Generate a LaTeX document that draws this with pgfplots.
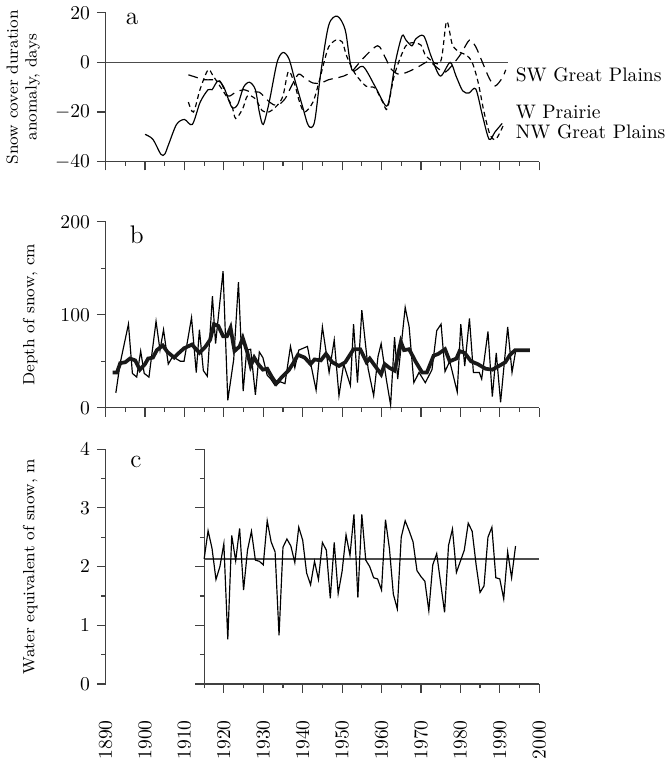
\documentclass[border=0pt]{standalone}
\usepackage{pgfplots}
\pgfplotsset{compat=1.18}
\begin{document}
\begin{tikzpicture}
\tikzset{lbl/.style={font=\fontsize{13}{15}\selectfont}}
\pgfplotsset{
  panel/.style={
    scale only axis, width=221.5pt, xmin=1890, xmax=2000,
    axis x line*=bottom, axis y line*=left,
    axis line style={black!75, line width=0.6pt},
    tick style={black!75, line width=0.6pt},
    tick align=outside, major tick length=4.5pt, minor tick length=2.2pt,
    xtick={1890,1900,...,2000}, minor xtick={1895,1905,...,1995},
    xticklabels={},
    ticklabel style={font=\fontsize{10}{12}\selectfont},
    ylabel style={font=\fontsize{8.3}{9.5}\selectfont, align=center, anchor=center},
    clip=false,
  },
}

% a: snow cover duration anomaly
\begin{axis}[panel, at={(0,266.85pt)}, height=76pt,
  ymin=-40, ymax=20, ytick={-40,-20,0,20},
  ylabel={Snow cover duration\\anomaly, days},
  ylabel style={at={(axis description cs:-0.19,0.5)}}]
\addplot[black!70, line width=0.5pt] coordinates {(1890,0) (1992,0)};
\addplot[black, line width=0.6pt, smooth] coordinates {
(1900,-29) (1902,-31) (1904,-37) (1905,-37) (1906,-33) (1908,-25) (1910,-23)
(1912,-25) (1914,-16) (1916,-11) (1917,-11) (1918.5,-7.5) (1920,-10) (1922,-18)
(1923.5,-17) (1925,-10) (1926.5,-8) (1928,-11) (1929,-20) (1930,-25) (1931.5,-16)
(1933.5,0) (1935,4) (1936.5,1.5) (1938,-7) (1940,-18) (1941.5,-25.6) (1943,-24)
(1944.6,-4) (1946.6,15) (1948.8,18.6) (1950.8,13) (1952.5,-3) (1955.3,-1.6)
(1958.3,-9.5) (1961,-17.4) (1962,-14.7) (1963.5,0) (1965.2,10.7) (1966.2,9)
(1967.7,6.7) (1968.7,9.5) (1970.7,10.7) (1972.6,2.4) (1974.9,-5.5) (1977.4,0)
(1978.9,-5.5) (1980.6,-11.5) (1982.2,-12.3) (1983.9,-10.7) (1985.6,-21.4)
(1987.3,-31) (1988.8,-28) (1990.6,-24.6)};
\addplot[black, line width=0.6pt, smooth, dash pattern=on 2.5pt off 1.8pt] coordinates {
(1911,-16) (1912.3,-20) (1914,-10.7) (1916,-3) (1917.3,-5.5) (1920,-12) (1922,-17.4)
(1923,-22.6) (1924.8,-18.6) (1926,-13.5) (1928,-14.7) (1929.7,-19.4) (1931.4,-20)
(1933.5,-17.4) (1935,-13.5) (1936.4,-3.6) (1938,-9) (1939.2,-16) (1940.5,-20)
(1942.6,-16) (1944.2,-7.5) (1945.4,0) (1946.6,6.3) (1948.4,9) (1950,8.3) (1951.2,2.4)
(1953.2,-4.3) (1956,-9.5) (1958.3,-10.3) (1960.3,-16) (1961.5,-18.6) (1963.3,-4.8)
(1966,6.3) (1968,8) (1970,7) (1971.4,2.4) (1974.9,0) (1976.5,16.5) (1978,7) (1980,4)
(1981.5,3) (1983,0) (1984.5,-8) (1986,-20) (1987.5,-29) (1989,-31) (1991,-25)};
\addplot[black, line width=0.6pt, smooth, dash pattern=on 5pt off 3pt] coordinates {
(1911,-5) (1913,-6) (1915,-7) (1917,-7) (1919,-7.5) (1921,-13.5) (1923,-12) (1925,-11)
(1927,-12) (1929,-12) (1931.6,-16) (1933.5,-17.4) (1935.5,-14.7) (1937,-10)
(1938.9,-4.8) (1940.5,-6.3) (1942.6,-8.3) (1944.6,-8.3) (1946.5,-7) (1948.4,-6.3)
(1950.4,-5.5) (1952.5,-3.6) (1955.3,1.6) (1959,6.7) (1960.8,2.4) (1962.5,-2.8)
(1964.5,-4.8) (1967,-3.6) (1969.5,-1.6) (1972,0.4) (1974,-2) (1976,-4) (1978,-1)
(1980.2,3.6) (1982.3,9) (1983.9,6.3) (1985.6,0) (1987.3,-6.3) (1988.8,-9.5)
(1990.6,-6.3) (1991.5,-3)};
\node[lbl] at (rel axis cs:0.061,0.96) {a};
\node[anchor=west, font=\fontsize{10}{12}\selectfont] at (axis cs:1992.3,-5.1) {SW Great Plains};
\node[anchor=west, font=\fontsize{10}{12}\selectfont] at (axis cs:1992.3,-20.2) {W Prairie};
\node[anchor=west, font=\fontsize{10}{12}\selectfont] at (axis cs:1992.3,-28.1) {NW Great Plains};
\end{axis}

% b: depth of snow
\begin{axis}[panel, at={(0,141.1pt)}, height=95pt,
  ymin=0, ymax=200, ytick={0,100,200}, minor ytick={50,150},
  ylabel={Depth of snow, cm},
  ylabel style={at={(axis description cs:-0.174,0.5)}}]
\addplot[black, line width=0.6pt] coordinates {
(1892.6,16) (1893.7,48) (1895.8,90) (1896.8,37) (1897.9,33) (1898.9,61) (1899.8,37)
(1901,33) (1902.8,93) (1903.8,62) (1904.7,84) (1905.9,47) (1907,55) (1909,50)
(1909.9,50) (1911.8,97) (1913,38) (1913.8,84) (1914.8,40) (1915.8,34) (1917.1,120)
(1917.9,69) (1919.8,147) (1921,8) (1922.5,52) (1923.7,135) (1924.9,18) (1925.8,62)
(1926.8,63) (1928,14) (1929,60) (1929.9,54) (1931,35) (1931.9,31) (1933,24)
(1934.3,28) (1935.5,26) (1936.9,66) (1938,43) (1939,62) (1941.2,66) (1942.2,44)
(1943.4,19) (1945,87) (1946.7,38) (1948,73) (1949.2,13) (1950.4,47) (1952.1,24)
(1952.9,90) (1953.9,27) (1955,105) (1956.6,42) (1958,13) (1959.1,55) (1959.9,69)
(1961.2,31) (1962.3,3) (1963.3,76) (1964.1,31) (1966,108) (1967,87) (1968.2,27)
(1969.5,38) (1971.1,27) (1972.8,41) (1974,83) (1975.1,90) (1976.1,39) (1977.3,50)
(1979.2,17) (1980.1,90) (1981.1,45) (1982.3,96) (1983.3,38) (1984.8,38) (1985.4,31)
(1987,82) (1988.1,12) (1989.1,59) (1990.2,6) (1992,87) (1993.1,38) (1994.1,63)};
\addplot[black!90, line width=1.9pt] coordinates {
(1891.8,38) (1892.9,38) (1893.7,48) (1895,49) (1896.2,53) (1897.5,51) (1898.7,41)
(1900,47) (1900.8,53) (1902,54) (1903,62) (1904.5,67) (1905.7,60) (1907.4,54)
(1908.6,59) (1909.9,64) (1911.9,68) (1913.8,59) (1915.2,65) (1916.5,73) (1917.5,90)
(1918.6,88) (1919.8,77) (1920.8,77) (1921.7,86) (1922.7,61) (1924,66) (1924.8,75)
(1926,59) (1926.8,45) (1927.7,54) (1928.7,47) (1929.9,41) (1931,42) (1932.2,33)
(1933.3,26) (1934.7,33) (1936.4,40) (1937.6,48) (1938.8,57) (1940.5,54) (1942,47)
(1943,52) (1944.6,51) (1945.9,58) (1947.5,49) (1949.2,45) (1950.8,49) (1952.9,63)
(1954.6,63) (1956.2,49) (1957,53) (1958.7,43) (1959.9,36) (1960.8,47) (1962,43)
(1963.3,40) (1964.9,71) (1965.7,62) (1967,63) (1968.6,50) (1970.3,38) (1971.5,38)
(1973.2,56) (1974.4,58) (1976.1,63) (1977.3,50) (1979,53) (1979.8,61) (1981.1,59)
(1982.7,50) (1984.4,47) (1986.4,42) (1988.1,41) (1989.8,45) (1991.4,49) (1992.6,57)
(1993.9,62) (1997.6,62)};
\node[lbl] at (rel axis cs:0.072,0.93) {b};
\end{axis}

% c: water equivalent, left axis and year labels
\begin{axis}[panel, at={(0,0)}, height=120pt,
  ymin=0, ymax=4, ytick={0,1,2,3,4}, minor ytick={0.5,1.5,...,3.5},
  x axis line style={draw=none}, xtick style={draw=none}, minor xtick={},
  xticklabels={1890,1900,1910,1920,1930,1940,1950,1960,1970,1980,1990,2000},
  xticklabel style={rotate=90, anchor=east}, xticklabel shift=10.5pt,
  ylabel={Water equivalent of snow, m},
  ylabel style={at={(axis description cs:-0.174,0.5)}}]
\draw[black!75, line width=0.6pt] (rel axis cs:0,0) -- (rel axis cs:0,1);
\node[lbl] at (rel axis cs:0.07,0.945) {c};
\end{axis}

% c: data axis starting in 1915
\begin{axis}[panel, at={(50.34pt,0)}, width=171.15pt, height=120pt,
  xmin=1915, xmax=2000, xtick={1920,1930,...,2000}, minor xtick={1915,1925,...,1995},
  ymin=0, ymax=4, ytick={0,1,2,3,4}, minor ytick={0.5,1.5,...,3.5}, yticklabels={}]
\addplot[black!70, line width=0.6pt] coordinates {(1915,2.13) (2000,2.13)};
\addplot[black, line width=0.6pt] coordinates {
(1915,2.13) (1916,2.61) (1917,2.31) (1918,1.78) (1919,2.0) (1920,2.39) (1921,0.76)
(1922,2.53) (1923,2.1) (1924,2.65) (1925,1.6) (1926,2.28) (1927,2.6) (1928,2.11)
(1929,2.09) (1930,2.03) (1931,2.78) (1932,2.42) (1933,2.25) (1934,0.83) (1935,2.33)
(1936,2.47) (1937,2.35) (1938,2.07) (1939,2.67) (1940,2.45) (1941,1.89) (1942,1.69)
(1943,2.09) (1944,1.78) (1945,2.41) (1946,2.28) (1947,1.46) (1948,2.41) (1949,1.54)
(1950,1.92) (1951,2.54) (1952,2.19) (1953,2.89) (1954,1.47) (1955,2.89) (1956,2.11)
(1957,2.0) (1958,1.81) (1959,1.79) (1960,1.6) (1961,2.8) (1962,2.31) (1963,1.53)
(1964,1.28) (1965,2.5) (1966,2.78) (1967,2.61) (1968,2.42) (1969,1.93) (1970,1.83)
(1971,1.75) (1972,1.25) (1973,2.03) (1974,2.22) (1975,1.72) (1976,1.22) (1977,2.36)
(1978,2.64) (1979,1.9) (1980,2.09) (1981,2.28) (1982,2.74) (1983,2.6) (1984,2.03)
(1985,1.56) (1986,1.67) (1987,2.5) (1988,2.67) (1989,1.81) (1990,1.79) (1991,1.45)
(1992,2.25) (1993,1.81) (1994,2.35)};
\end{axis}
\end{tikzpicture}
\end{document}
